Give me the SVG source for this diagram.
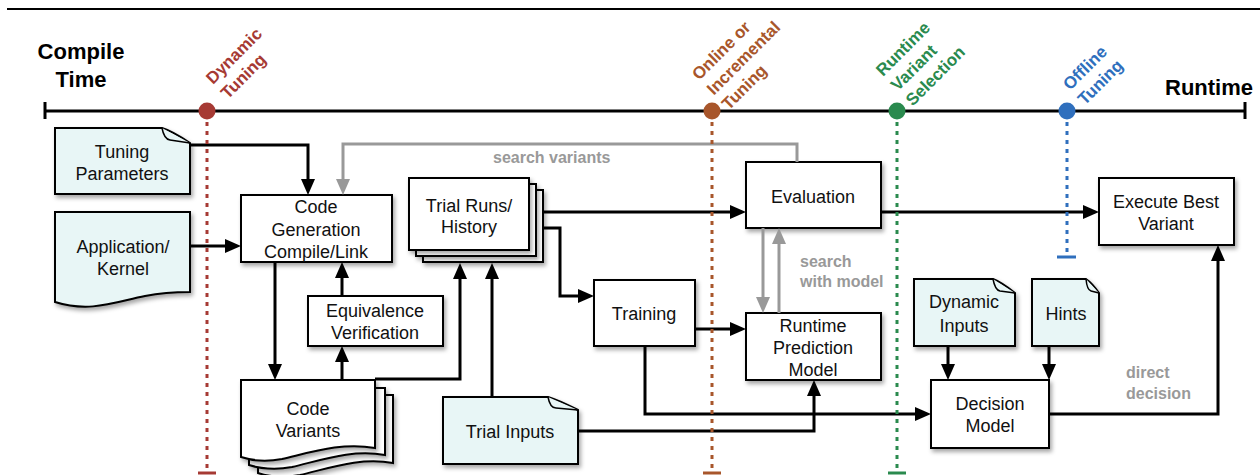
<svg xmlns="http://www.w3.org/2000/svg" width="1260" height="475" viewBox="0 0 1260 475">
<defs>
<filter id="sh" x="-10%" y="-10%" width="130%" height="140%">
<feDropShadow dx="2" dy="3" stdDeviation="2" flood-color="#000" flood-opacity="0.35"/>
</filter>
<marker id="ab" markerUnits="userSpaceOnUse" markerWidth="16" markerHeight="14" refX="8" refY="7" orient="auto">
<path d="M0,0 L16,7 L0,14 Z" fill="#000"/>
</marker>
<marker id="ag" markerUnits="userSpaceOnUse" markerWidth="16" markerHeight="14" refX="8" refY="7" orient="auto">
<path d="M0,0 L16,7 L0,14 Z" fill="#999"/>
</marker>
<style>
.box{fill:#fff;stroke:#000;stroke-width:2;filter:url(#sh)}
.doc{fill:#e8f6f6;stroke:#000;stroke-width:2;filter:url(#sh)}
.fold{fill:#e8f6f6;stroke:#000;stroke-width:1.5}
.t{font-family:"Liberation Sans",Arial,sans-serif;font-size:18px;fill:#111;text-anchor:middle}
.lbl{font-family:"Liberation Sans",Arial,sans-serif;font-size:16px;font-weight:bold;fill:#999}
.big{font-family:"Liberation Sans",Arial,sans-serif;font-size:22px;font-weight:bold;fill:#000}
.rot{font-family:"Liberation Sans",Arial,sans-serif;font-size:17px;font-weight:bold}
.cb{fill:none;stroke:#000;stroke-width:3;marker-end:url(#ab)}
.cg{fill:none;stroke:#999;stroke-width:3;marker-end:url(#ag)}
.dot{fill:none;stroke-width:3;stroke-dasharray:4 5}
</style>
</defs>

<g id="frame">
<line x1="7" y1="9" x2="1260" y2="9" stroke="#000" stroke-width="2"/>
</g>

<g id="timeline">
<line x1="45" y1="111" x2="1245" y2="111" stroke="#000" stroke-width="3"/>
<line x1="45" y1="102" x2="45" y2="119" stroke="#000" stroke-width="3"/>
<line x1="1245" y1="102" x2="1245" y2="119" stroke="#000" stroke-width="3"/>
<text class="big" x="81" y="59" text-anchor="middle">Compile</text>
<text class="big" x="81" y="87" text-anchor="middle">Time</text>
<text class="big" x="1209" y="95" text-anchor="middle">Runtime</text>
</g>

<g id="tuning-params">
<path class="doc" d="M55,128 H162 Q172,131 190,143 V194 H55 Z"/>
<path class="fold" d="M162,128 Q164,139 170,140 L190,143"/>
<text class="t" x="122" y="158">Tuning</text>
<text class="t" x="122" y="180">Parameters</text>
</g>

<g id="application">
<path class="doc" d="M55,212 H190 V292 C175,292 160,293 145,296 C115,302 90,313 55,302 Z"/>
<text class="t" x="123" y="253">Application/</text>
<text class="t" x="123" y="275">Kernel</text>
</g>

<g id="code-gen">
<rect class="box" x="241" y="195" width="151" height="67"/>
<text class="t" x="316" y="213">Code</text>
<text class="t" x="316" y="236">Generation</text>
<text class="t" x="316" y="258">Compile/Link</text>
</g>

<g id="equivalence">
<rect class="box" x="308" y="296" width="135" height="50"/>
<text class="t" x="375" y="317">Equivalence</text>
<text class="t" x="375" y="339">Verification</text>
</g>

<g id="code-variants">
<path class="box" d="M258,395 H393 V463 C360,457 330,468 300,475 C285,478 270,477 258,473 Z"/>
<path class="box" d="M249,388 H385 V455 C352,449 322,460 292,467 C277,470 262,469 249,465 Z"/>
<path class="box" d="M241,380 H375 V448 C342,442 312,452 282,459 C267,462 253,461 241,457 Z"/>
<text class="t" x="308" y="415">Code</text>
<text class="t" x="308" y="437">Variants</text>
</g>

<g id="trial-runs">
<rect class="box" x="423" y="190" width="120" height="72"/>
<rect class="box" x="416" y="184" width="120" height="72"/>
<rect class="box" x="409" y="178" width="120" height="72"/>
<text class="t" x="469" y="212">Trial Runs/</text>
<text class="t" x="469" y="233">History</text>
</g>

<g id="trial-inputs">
<path class="doc" d="M443,397 H548 Q558,400 578,410 V464 H443 Z"/>
<path class="fold" d="M548,397 Q550,408 556,408 L578,410"/>
<text class="t" x="510" y="438">Trial Inputs</text>
</g>

<g id="evaluation">
<rect class="box" x="746" y="162" width="135" height="66"/>
<text class="t" x="813" y="203">Evaluation</text>
</g>

<g id="training">
<rect class="box" x="594" y="280" width="101" height="66"/>
<text class="t" x="644" y="320">Training</text>
</g>

<g id="prediction-model">
<rect class="box" x="746" y="313" width="135" height="67"/>
<text class="t" x="813" y="332">Runtime</text>
<text class="t" x="813" y="354">Prediction</text>
<text class="t" x="813" y="376">Model</text>
</g>

<g id="execute">
<rect class="box" x="1099" y="178" width="135" height="67"/>
<text class="t" x="1166" y="208">Execute Best</text>
<text class="t" x="1166" y="230">Variant</text>
</g>

<g id="dynamic-inputs">
<path class="doc" d="M914,279 H993 Q1001,282 1015,293 V346 H914 Z"/>
<path class="fold" d="M993,279 Q995,290 1000,291 L1015,293"/>
<text class="t" x="964" y="308">Dynamic</text>
<text class="t" x="964" y="332">Inputs</text>
</g>

<g id="hints">
<path class="doc" d="M1032,279 H1086 Q1092,283 1099,293 V346 H1032 Z"/>
<path class="fold" d="M1086,279 Q1087,290 1091,291 L1099,293"/>
<text class="t" x="1066" y="320">Hints</text>
</g>

<g id="decision">
<rect class="box" x="931" y="380" width="118" height="68"/>
<text class="t" x="990" y="410">Decision</text>
<text class="t" x="990" y="432">Model</text>
</g>

<g id="connectors">
<path class="cb" d="M190,145 H308 V187"/>
<path class="cb" d="M190,246 H233"/>
<path class="cb" d="M275,262 V372"/>
<path class="cb" d="M342,380 V354"/>
<path class="cb" d="M342,296 V270"/>
<path class="cb" d="M375,379 H460 V271"/>
<path class="cb" d="M492,397 V271"/>
<path class="cb" d="M543,212 H738"/>
<path class="cb" d="M543,228 H560 V296 H586"/>
<path class="cb" d="M695,329 H738"/>
<path class="cb" d="M645,346 V414 H923"/>
<path class="cb" d="M578,431 H814 V388"/>
<path class="cb" d="M881,212 H1091"/>
<path class="cb" d="M948,346 V372"/>
<path class="cb" d="M1049,346 V372"/>
<path class="cb" d="M1049,414 H1218 V253"/>
<path class="cg" d="M797,162 V144 H343 V187"/>
<path class="cg" d="M763,228 V305"/>
<path class="cg" d="M779,313 V236"/>
<text class="lbl" x="493" y="163">search variants</text>
<text class="lbl" x="800" y="267">search</text>
<text class="lbl" x="800" y="287">with model</text>
<text class="lbl" x="1126" y="378">direct</text>
<text class="lbl" x="1126" y="399">decision</text>
</g>

<g id="marker-dynamic" fill="#a63a34" stroke="#a63a34">
<line class="dot" x1="207" y1="122" x2="207" y2="470"/>
<line x1="198" y1="473" x2="216" y2="473" stroke-width="3"/>
<circle cx="207" cy="111" r="8.5" stroke="none"/>
<text class="rot" stroke="none" transform="translate(213,85) rotate(-45)"><tspan x="0" y="0">Dynamic</tspan><tspan x="0" dy="21">Tuning</tspan></text>
</g>

<g id="marker-online" fill="#a8562b" stroke="#a8562b">
<line class="dot" x1="712" y1="122" x2="712" y2="470"/>
<line x1="703" y1="473" x2="721" y2="473" stroke-width="3"/>
<circle cx="712" cy="111" r="8.5" stroke="none"/>
<text class="rot" stroke="none" transform="translate(699,81) rotate(-45)"><tspan x="0" y="0">Online or</tspan><tspan x="0" dy="21">Incremental</tspan><tspan x="0" dy="21">Tuning</tspan></text>
</g>

<g id="marker-runtime" fill="#2a8a4e" stroke="#2a8a4e">
<line class="dot" x1="897" y1="122" x2="897" y2="470"/>
<line x1="888" y1="473" x2="906" y2="473" stroke-width="3"/>
<circle cx="897" cy="111" r="8.5" stroke="none"/>
<text class="rot" stroke="none" transform="translate(883,77) rotate(-45)"><tspan x="0" y="0">Runtime</tspan><tspan x="0" dy="21">Variant</tspan><tspan x="0" dy="21">Selection</tspan></text>
</g>

<g id="marker-offline" fill="#2f6fbd" stroke="#2f6fbd">
<line class="dot" x1="1067" y1="122" x2="1067" y2="253"/>
<line x1="1057" y1="257" x2="1076" y2="257" stroke-width="3"/>
<circle cx="1067" cy="111" r="8.5" stroke="none"/>
<text class="rot" stroke="none" transform="translate(1070,91) rotate(-45)"><tspan x="0" y="0">Offline</tspan><tspan x="0" dy="21">Tuning</tspan></text>
</g>
</svg>
